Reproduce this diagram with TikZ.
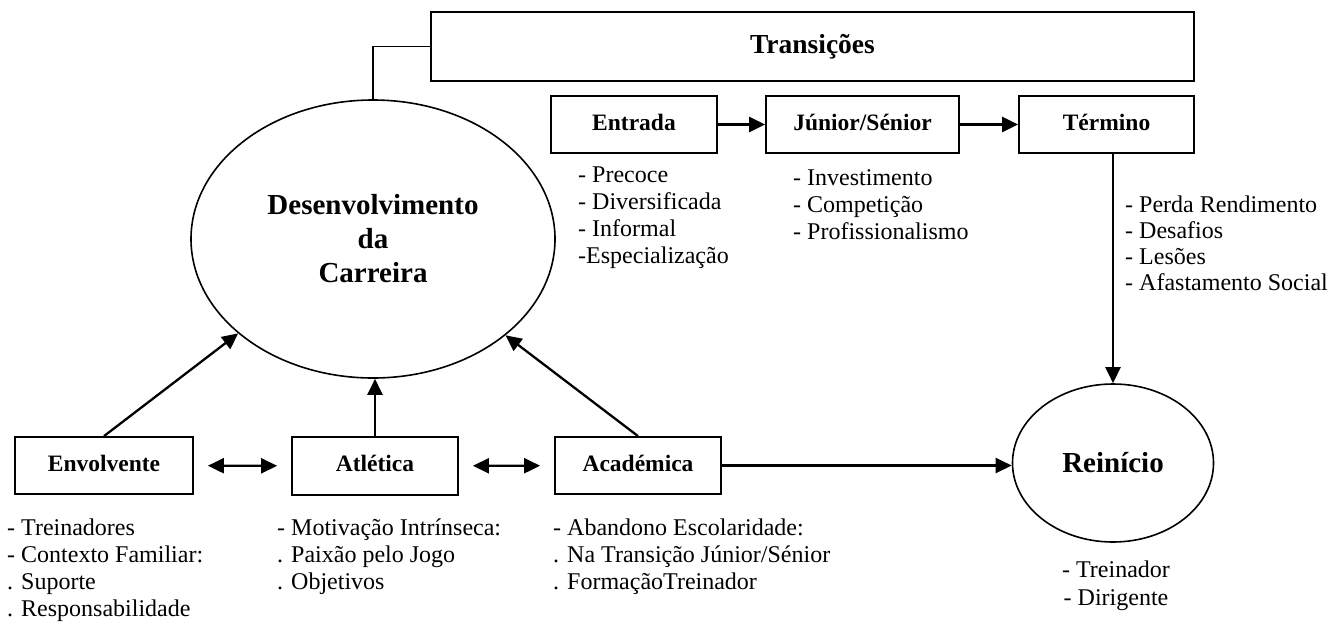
\documentclass[tikz,border=0pt]{standalone}
\usepackage{fontspec}
\setmainfont{Liberation Serif}
\usetikzlibrary{shapes.geometric,arrows.meta}
\begin{document}
\begin{tikzpicture}[x=1pt,y=-1pt,
  box/.style={draw, line width=1.8pt, rectangle, inner sep=0pt, text height=16pt, text depth=5pt, font=\fontsize{23.5}{27}\selectfont\bfseries},
  oval/.style={draw, line width=1.6pt, ellipse, inner sep=0pt, align=center, font=\fontsize{29}{34}\selectfont\bfseries},
  lst/.style={inner sep=0pt, anchor=base west, font=\fontsize{24}{27}\selectfont},
  arr/.style={line width=2.3pt, -{Triangle[length=16pt,width=15pt]}},
  darr/.style={line width=2.3pt, {Triangle[length=16pt,width=15pt]}-{Triangle[length=16pt,width=15pt]}, shorten <=14pt, shorten >=14pt},
  link/.style={line width=1.5pt}]
\useasboundingbox (0,0) rectangle (1343,622);

% main shapes
\node[box, minimum width=763pt, minimum height=69pt, text height=19pt, text depth=6pt, font=\fontsize{27.5}{30}\selectfont\bfseries] (trans) at (812.5,46.5) {Transições};
\node[oval, minimum width=364pt, minimum height=278pt] (dev) at (373,239) {Desenvolvimento\\da\\Carreira};
\node[oval, minimum width=201pt, minimum height=158pt] (rein) at (1113,463) {Reinício};

\node[box, minimum width=166pt, minimum height=57pt] (entr) at (634,124.5) {Entrada};
\node[box, minimum width=193pt, minimum height=57pt] (jun) at (862.5,124.5) {Júnior/Sénior};
\node[box, minimum width=175pt, minimum height=57pt] (term) at (1106.5,124.5) {Término};
\node[box, minimum width=178pt, minimum height=57pt] (env) at (104,465.5) {Envolvente};
\node[box, minimum width=166pt, minimum height=58pt] (atl) at (375,466) {Atlética};
\node[box, minimum width=166pt, minimum height=57pt] (acad) at (638,465.5) {Académica};

% lists
\node[lst] (lentr) at (578,182) {\begin{tabular}[t]{@{}l@{}}- Precoce\\- Diversificada\\- Informal\\-Especialização\end{tabular}};
\node[lst] (ljun) at (793,185) {\begin{tabular}[t]{@{}l@{}}- Investimento\\- Competição\\- Profissionalismo\end{tabular}};
\node[lst, font=\fontsize{24}{26}\selectfont] (lterm) at (1125,212) {\begin{tabular}[t]{@{}l@{}}- Perda Rendimento\\- Desafios\\- Lesões\\- Afastamento Social\end{tabular}};
\node[lst] (lenv) at (7,535) {\begin{tabular}[t]{@{}l@{}}- Treinadores\\- Contexto Familiar:\\. Suporte\\. Responsabilidade\end{tabular}};
\node[lst] (latl) at (277,535) {\begin{tabular}[t]{@{}l@{}}- Motivação Intrínseca:\\. Paixão pelo Jogo\\. Objetivos\end{tabular}};
\node[lst] (lacad) at (553,535) {\begin{tabular}[t]{@{}l@{}}- Abandono Escolaridade:\\. Na Transição Júnior/Sénior\\. FormaçãoTreinador\end{tabular}};
\node[lst, anchor=base, font=\fontsize{24}{28}\selectfont] (lrein) at (1116,577) {\begin{tabular}[t]{@{}c@{}}- Treinador\\- Dirigente\end{tabular}};

% connectors
\draw[link] (dev.north) |- (trans.west);
\draw[arr] (entr) -- (jun);
\draw[arr] (jun) -- (term);
\draw[arr] (term.south -| rein.north) -- (rein.north);
\draw[arr] (acad.east) -- (acad.east -| rein.west);
\draw[darr] (env) -- (atl);
\draw[darr] (atl) -- (acad);
\draw[arr] (env.north) -- (dev.215);
\draw[arr] (atl.north) -- (atl.north |- dev.south);
\draw[arr] (acad.north) -- (dev.-36);
\end{tikzpicture}
\end{document}
